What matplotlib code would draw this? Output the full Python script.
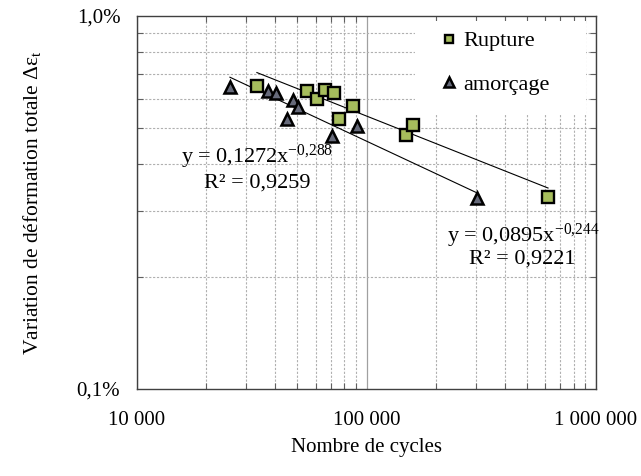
import numpy as np
import matplotlib
matplotlib.use("Agg")
import matplotlib.pyplot as plt
from matplotlib.patches import Rectangle
from matplotlib.ticker import FixedLocator, FixedFormatter, LogLocator, NullFormatter

plt.rcParams['font.family'] = ['Liberation Serif', 'DejaVu Serif']
plt.rcParams['mathtext.fontset'] = 'custom'
plt.rcParams['mathtext.rm'] = 'Liberation Serif'
plt.rcParams['mathtext.it'] = 'Liberation Serif:italic'

# Data (strain range as fraction)
rupture_cycles = [33300, 55000, 60900, 65900, 72200, 87300, 75900, 148600, 159400, 618000]
rupture_strain = [0.00649, 0.00629, 0.00599, 0.00635, 0.00622, 0.00574, 0.00529, 0.00480, 0.00510, 0.00327]

amorcage_cycles = [25400, 37200, 40300, 47800, 50300, 45000, 70700, 90900, 303000]
amorcage_strain = [0.00645, 0.00629, 0.00622, 0.00595, 0.00570, 0.00529, 0.00477, 0.00507, 0.00325]

# Power-law trend line coefficients (y = a * x^b) and R²
rupture_fit = (0.0895, -0.244)
amorcage_fit = (0.1272, -0.288)
rupture_r2 = 0.9221
amorcage_r2 = 0.9259

labels = ['Rupture', 'amorçage']
xticks = [1e4, 1e5, 1e6]
xticklabels = ['10 000', '100 000', '1 000 000']
yticks = [0.001, 0.01]
yticklabels = ['0,1%', '1,0%']

fig = plt.figure(figsize=(6.41, 4.76), dpi=100)
ax = fig.add_axes([137/641, 1 - 389/476, (596-137)/641, (389-16)/476])
ax.set_xscale('log')
ax.set_yscale('log')
ax.set_xlim(1e4, 1e6)
ax.set_ylim(0.001, 0.01)
ax.set_axisbelow(True)

# grid
ax.grid(True, which='minor', color='#b0b0b0', linestyle=(0, (2, 1.5)), linewidth=0.8)
ax.xaxis.grid(True, which='major', color='#a0a0a0', linestyle='-', linewidth=0.9)
ax.yaxis.grid(False, which='major')

# white legend area covering grid
ax.add_patch(Rectangle((0.606, 0.735), 0.372, 0.252, transform=ax.transAxes,
                       facecolor='white', edgecolor='none', zorder=1))

# trend lines
for (a, b), xs in [(amorcage_fit, amorcage_cycles), (rupture_fit, rupture_cycles)]:
    xx = np.logspace(np.log10(min(xs)), np.log10(max(xs)), 50)
    ax.plot(xx, a * xx ** b, color='black', linewidth=0.8, zorder=2)

ax.plot(rupture_cycles, rupture_strain, linestyle='none', marker='s', markersize=8.5,
        markerfacecolor='#a6bd5c', markeredgecolor='black', markeredgewidth=1.7,
        label=labels[0], zorder=3)
ax.plot(amorcage_cycles, amorcage_strain, linestyle='none', marker='^', markersize=9,
        markerfacecolor='#666a7a', markeredgecolor='black', markeredgewidth=1.8,
        label=labels[1], zorder=3)

# ticks
ax.xaxis.set_major_locator(FixedLocator(xticks))
ax.xaxis.set_major_formatter(FixedFormatter(xticklabels))
ax.yaxis.set_major_locator(FixedLocator(yticks))
ax.yaxis.set_major_formatter(FixedFormatter(yticklabels))
ax.xaxis.set_minor_locator(LogLocator(base=10, subs=np.arange(2, 10)))
ax.yaxis.set_minor_locator(LogLocator(base=10, subs=np.arange(2, 10)))
ax.xaxis.set_minor_formatter(NullFormatter())
ax.yaxis.set_minor_formatter(NullFormatter())
ax.tick_params(which='major', length=0, labelsize=15, colors='black')
ax.tick_params(axis='x', which='major', pad=15.5)
ax.tick_params(axis='y', which='major', pad=12)
ax.tick_params(which='minor', direction='in', length=4, width=0.8, color='#606060',
               top=True, right=True, bottom=True, left=True)

for s in ax.spines.values():
    s.set_color('#404040')
    s.set_linewidth(1.0)

ax.set_xlabel('Nombre de cycles', fontsize=15, labelpad=6)
ax.set_ylabel(r'Variation de déformation totale $\mathrm{\Delta\varepsilon}_{\mathrm{t}}$',
              fontsize=15.5, labelpad=24)

# equations
def eq(a, b):
    sa = f'{a}'.replace('.', ',')
    sb = f'{b}'.replace('.', '{,}')
    return f'y = {sa}x$^{{\\mathrm{{{sb}}}}}$'

def r2(v):
    return 'R² = ' + f'{v}'.replace('.', ',')

fig.text(257/641, 1 - 157/476, eq(*amorcage_fit), fontsize=16, ha='center', va='center')
fig.text(257/641, 1 - 183/476, r2(amorcage_r2), fontsize=16, ha='center', va='center')
fig.text(523/641, 1 - 236/476, eq(*rupture_fit), fontsize=16, ha='center', va='center')
fig.text(522/641, 1 - 259/476, r2(rupture_r2), fontsize=16, ha='center', va='center')

leg = ax.legend(loc='upper left', bbox_to_anchor=(0.629, 1.0), frameon=False,
                fontsize=16, labelspacing=1.02, handlelength=0.8, handletextpad=0.22,
                borderpad=0.17, markerscale=0.75)
leg.set_zorder(5)

fig.savefig('out.png', dpi=100)
